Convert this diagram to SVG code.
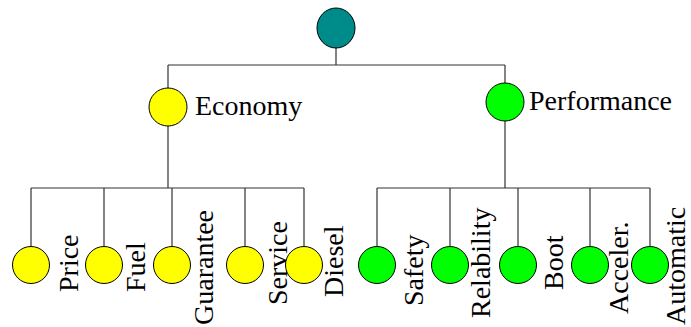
<svg xmlns="http://www.w3.org/2000/svg" width="691" height="327" viewBox="0 0 691 327">
  <style>
    .node { stroke: #000; stroke-width: 1; }
    .root { fill: #008b8b; }
    .eco { fill: #ffff00; }
    .perf { fill: #00ff00; }
    .link { fill: none; stroke: #333; stroke-width: 1.2; }
    .lbl { font-family: "Liberation Serif", "Times New Roman", serif; font-size: 28px; fill: #000; }
  </style>
  <rect width="691" height="327" fill="#fff"/>

  <g id="connectors">
    <path class="link" d="M336,47 V65 M168,65 H505 M168,65 V88 M505,65 V83"/>
    <path class="link" d="M168,126 V188 M31,188 H304 M31,188 V247 M104,188 V247 M172,188 V247 M245,188 V247 M304,188 V247"/>
    <path class="link" d="M505,121 V188 M377,188 H650 M377,188 V247 M450,188 V247 M518,188 V247 M590,188 V247 M650,188 V247"/>
  </g>

  <g id="root"><ellipse class="node root" cx="336" cy="28" rx="19" ry="20"/></g>

  <g id="economy">
    <ellipse class="node eco" cx="168" cy="107" rx="19" ry="19"/>
    <text class="lbl" x="195" y="115">Economy</text>
  </g>
  <g id="performance">
    <ellipse class="node perf" cx="505" cy="102" rx="19" ry="19"/>
    <text class="lbl" x="529" y="110">Performance</text>
  </g>

  <g id="price">
    <circle class="node eco" cx="31" cy="265" r="18.5"/>
    <text class="lbl" transform="translate(78,292) rotate(-90)">Price</text>
  </g>
  <g id="fuel">
    <circle class="node eco" cx="104" cy="265" r="18.5"/>
    <text class="lbl" transform="translate(145,292) rotate(-90)">Fuel</text>
  </g>
  <g id="guarantee">
    <circle class="node eco" cx="172" cy="265" r="18.5"/>
    <text class="lbl" transform="translate(213,325) rotate(-90)">Guarantee</text>
  </g>
  <g id="service">
    <circle class="node eco" cx="245" cy="265" r="18.5"/>
    <text class="lbl" transform="translate(287,305) rotate(-90)">Service</text>
  </g>
  <g id="diesel">
    <circle class="node eco" cx="304" cy="265" r="18.5"/>
    <text class="lbl" transform="translate(343,297) rotate(-90)">Diesel</text>
  </g>

  <g id="safety">
    <circle class="node perf" cx="377" cy="265" r="18.5"/>
    <text class="lbl" transform="translate(423,306) rotate(-90)">Safety</text>
  </g>
  <g id="relability">
    <circle class="node perf" cx="450" cy="265" r="18.5"/>
    <text class="lbl" transform="translate(490,318) rotate(-90)">Relability</text>
  </g>
  <g id="boot">
    <circle class="node perf" cx="518" cy="265" r="18.5"/>
    <text class="lbl" transform="translate(563,290) rotate(-90)">Boot</text>
  </g>
  <g id="acceler">
    <circle class="node perf" cx="590" cy="265" r="18.5"/>
    <text class="lbl" transform="translate(628,314) rotate(-90)">Acceler.</text>
  </g>
  <g id="automatic">
    <circle class="node perf" cx="650" cy="265" r="18.5"/>
    <text class="lbl" transform="translate(685,325) rotate(-90)">Automatic</text>
  </g>
</svg>
